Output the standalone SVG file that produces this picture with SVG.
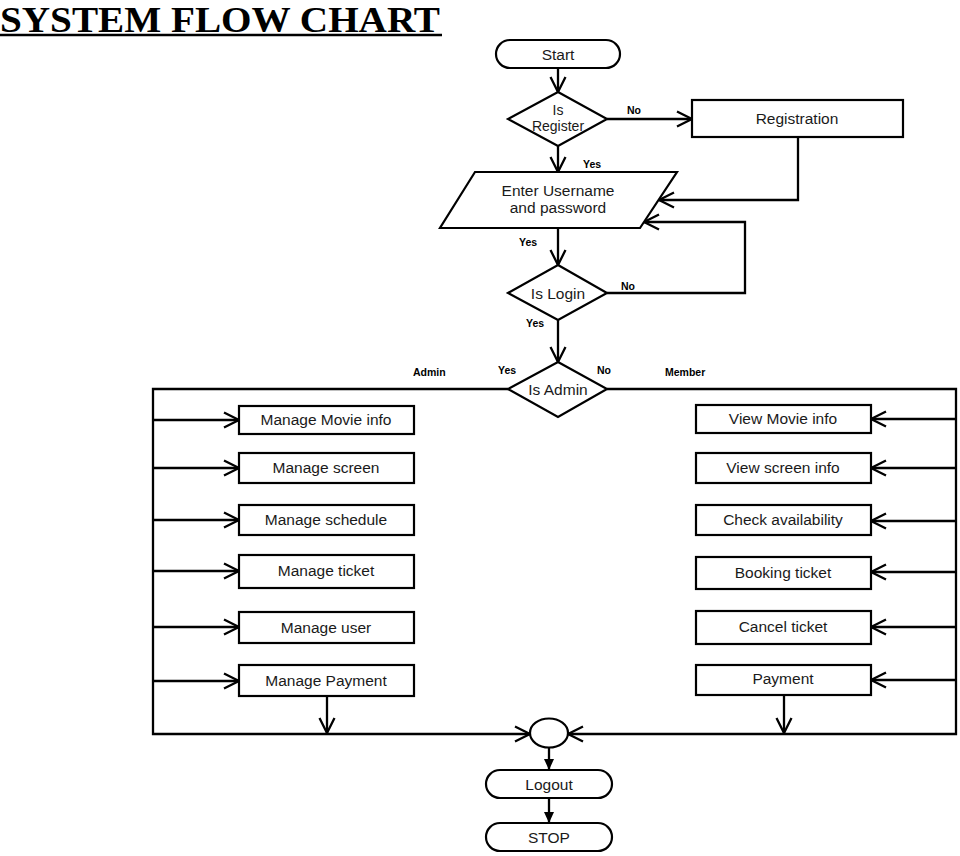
<svg xmlns="http://www.w3.org/2000/svg" width="960" height="856" viewBox="0 0 960 856">
<style>
.shape{fill:#fff;stroke:#000;stroke-width:2.2}
.lbl{font-family:"Liberation Sans",Arial,sans-serif;font-size:15.5px;fill:#1a1a1a;text-anchor:middle}
.lbl2{font-family:"Liberation Sans",Arial,sans-serif;font-size:14px;fill:#1a1a1a;text-anchor:middle}
.small{font-family:"Liberation Sans",Arial,sans-serif;font-size:10.5px;font-weight:bold;fill:#000}
.conn{fill:none;stroke:#000;stroke-width:2.3}
</style>
<defs>
<marker id="open" markerWidth="18" markerHeight="18" refX="16" refY="9" orient="auto" markerUnits="userSpaceOnUse">
<path d="M1,1.5 L16,9 L1,16.5" fill="none" stroke="#000" stroke-width="2.3"/>
</marker>
<marker id="solid" markerWidth="12" markerHeight="12" refX="11" refY="6" orient="auto" markerUnits="userSpaceOnUse">
<path d="M0,1 L11,6 L0,11 Z" fill="#000"/>
</marker>
</defs>
<rect width="960" height="856" fill="#fff"/>
<g id="title">
<text x="0" y="31.5" font-family="'Liberation Serif','Times New Roman',serif" font-size="35" font-weight="bold" fill="#000" textLength="440" lengthAdjust="spacingAndGlyphs">SYSTEM FLOW CHART</text>
<line x1="0" y1="35" x2="442" y2="35" stroke="#000" stroke-width="2.6"/>
</g>
<g id="connectors">
<path class="conn" d="M558,68 V92" marker-end="url(#open)"/>
<path class="conn" d="M607,119 H692" marker-end="url(#open)"/>
<path class="conn" d="M558,146 V172" marker-end="url(#open)"/>
<path class="conn" d="M798,137 V200 H659" marker-end="url(#open)"/>
<path class="conn" d="M558,228 V265" marker-end="url(#open)"/>
<path class="conn" d="M607,293 H745 V222 H644" marker-end="url(#open)"/>
<path class="conn" d="M558,320 V362" marker-end="url(#open)"/>
<path class="conn" d="M508,389 H153 V734 H530" marker-end="url(#open)"/>
<path class="conn" d="M607,389 H956 V734 H568" marker-end="url(#open)"/>
<path class="conn" d="M153,420 H239" marker-end="url(#open)"/>
<path class="conn" d="M153,468 H239" marker-end="url(#open)"/>
<path class="conn" d="M153,520 H239" marker-end="url(#open)"/>
<path class="conn" d="M153,571 H239" marker-end="url(#open)"/>
<path class="conn" d="M153,627 H239" marker-end="url(#open)"/>
<path class="conn" d="M153,681 H239" marker-end="url(#open)"/>
<path class="conn" d="M956,419 H871" marker-end="url(#open)"/>
<path class="conn" d="M956,468 H871" marker-end="url(#open)"/>
<path class="conn" d="M956,521 H871" marker-end="url(#open)"/>
<path class="conn" d="M956,572 H871" marker-end="url(#open)"/>
<path class="conn" d="M956,627 H871" marker-end="url(#open)"/>
<path class="conn" d="M956,680 H871" marker-end="url(#open)"/>
<path class="conn" d="M327,696 V733" marker-end="url(#open)"/>
<path class="conn" d="M784,695 V733" marker-end="url(#open)"/>
<path class="conn" d="M549,748 V770" marker-end="url(#solid)"/>
<path class="conn" d="M549,798 V823" marker-end="url(#solid)"/>
<text class="small" x="627" y="114">No</text>
<text class="small" x="583" y="168">Yes</text>
<text class="small" x="519" y="246">Yes</text>
<text class="small" x="621" y="290">No</text>
<text class="small" x="526" y="327">Yes</text>
<text class="small" x="413" y="376">Admin</text>
<text class="small" x="498" y="374">Yes</text>
<text class="small" x="597" y="374">No</text>
<text class="small" x="665" y="376">Member</text>
</g>
<g id="start">
<rect class="shape" x="496" y="40" width="124" height="28" rx="14"/>
<text class="lbl" x="558" y="59.5">Start</text>
</g>
<g id="is-register">
<polygon class="shape" points="558,92 607,119 558,146 508,119"/>
<text class="lbl2" x="558" y="115">Is</text>
<text class="lbl2" x="558" y="131">Register</text>
</g>
<g id="registration">
<rect class="shape" x="692" y="100" width="211" height="37"/>
<text class="lbl" x="797" y="123.5">Registration</text>
</g>
<g id="enter-credentials">
<polygon class="shape" points="475,172 677,172 640,228 440,228"/>
<text class="lbl" x="558" y="196" font-size="14.5">Enter Username</text>
<text class="lbl" x="558" y="213" font-size="14.5">and password</text>
</g>
<g id="is-login">
<polygon class="shape" points="558,265 607,293 558,320 508,293"/>
<text class="lbl" x="558" y="298.5">Is Login</text>
</g>
<g id="is-admin">
<polygon class="shape" points="558,362 607,389 558,417 508,389"/>
<text class="lbl" x="558" y="394.5">Is Admin</text>
</g>
<g id="manage-movie">
<rect class="shape" x="239" y="406" width="175" height="28"/>
<text class="lbl" x="326" y="425">Manage Movie info</text>
</g>
<g id="manage-screen">
<rect class="shape" x="239" y="453" width="175" height="30"/>
<text class="lbl" x="326" y="473">Manage screen</text>
</g>
<g id="manage-schedule">
<rect class="shape" x="239" y="505" width="175" height="30"/>
<text class="lbl" x="326" y="525">Manage schedule</text>
</g>
<g id="manage-ticket">
<rect class="shape" x="239" y="555" width="175" height="33"/>
<text class="lbl" x="326" y="576">Manage ticket</text>
</g>
<g id="manage-user">
<rect class="shape" x="239" y="612" width="175" height="31"/>
<text class="lbl" x="326" y="632.5">Manage user</text>
</g>
<g id="manage-payment">
<rect class="shape" x="239" y="665" width="175" height="31"/>
<text class="lbl" x="326" y="685.5">Manage Payment</text>
</g>
<g id="view-movie">
<rect class="shape" x="696" y="405" width="175" height="28"/>
<text class="lbl" x="783" y="424">View Movie info</text>
</g>
<g id="view-screen">
<rect class="shape" x="696" y="453" width="175" height="30"/>
<text class="lbl" x="783" y="473">View screen info</text>
</g>
<g id="check-availability">
<rect class="shape" x="696" y="505" width="175" height="30"/>
<text class="lbl" x="783" y="524.5">Check availability</text>
</g>
<g id="booking-ticket">
<rect class="shape" x="696" y="557" width="175" height="32"/>
<text class="lbl" x="783" y="577.5">Booking ticket</text>
</g>
<g id="cancel-ticket">
<rect class="shape" x="696" y="611" width="175" height="33"/>
<text class="lbl" x="783" y="632">Cancel ticket</text>
</g>
<g id="payment">
<rect class="shape" x="696" y="665" width="175" height="30"/>
<text class="lbl" x="783" y="684">Payment</text>
</g>
<g id="join">
<ellipse class="shape" cx="549" cy="733" rx="19" ry="14.5"/>
</g>
<g id="logout">
<rect class="shape" x="486" y="770" width="126" height="28" rx="14"/>
<text class="lbl" x="549" y="789.5">Logout</text>
</g>
<g id="stop">
<rect class="shape" x="486" y="823" width="126" height="28" rx="14"/>
<text class="lbl" x="549" y="842.5">STOP</text>
</g>
</svg>
